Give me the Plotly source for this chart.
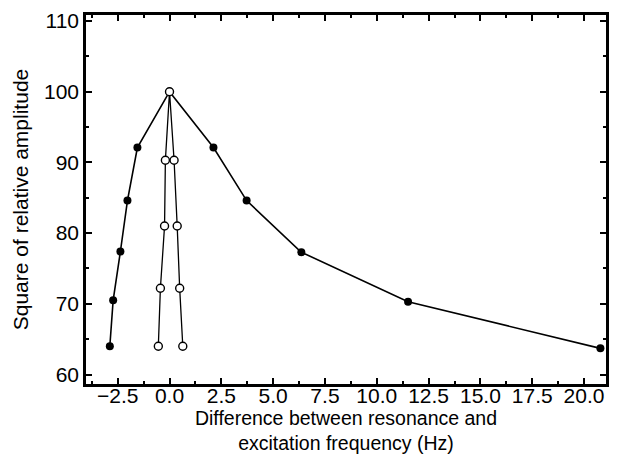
import plotly.graph_objects as go

# Data
filled_x = [-2.88, -2.72, -2.37, -2.03, -1.55, 0.0, 2.12, 3.72, 6.36, 11.51, 20.79]
filled_y = [64.0, 70.5, 77.4, 84.6, 92.1, 100.0, 92.1, 84.6, 77.3, 70.3, 63.7]

open_x = [-0.54, -0.44, -0.24, -0.2, 0.0, 0.22, 0.37, 0.49, 0.64]
open_y = [64.0, 72.2, 81.0, 90.3, 100.0, 90.3, 81.0, 72.2, 64.0]

x_tickvals = [-2.5, 0.0, 2.5, 5.0, 7.5, 10.0, 12.5, 15.0, 17.5, 20.0]
x_ticktext = ["−2.5", "0.0", "2.5", "5.0", "7.5", "10.0", "12.5", "15.0", "17.5", "20.0"]
y_tickvals = [60, 70, 80, 90, 100, 110]

x_title = "Difference between resonance and<br>excitation frequency (Hz)"
y_title = "Square of relative amplitude"

FONT = "Liberation Sans, Arial, sans-serif"

fig = go.Figure()
fig.add_trace(go.Scatter(
    x=filled_x, y=filled_y, mode="lines+markers",
    line=dict(color="black", width=1.6),
    marker=dict(symbol="circle", size=8, color="black"),
    showlegend=False,
))
fig.add_trace(go.Scatter(
    x=open_x, y=open_y, mode="lines+markers",
    line=dict(color="black", width=1.3),
    marker=dict(symbol="circle", size=8, color="white",
                line=dict(color="black", width=1.4)),
    showlegend=False,
))

axis_common = dict(
    showline=True, linecolor="black", linewidth=2.5, mirror="allticks",
    ticks="inside", ticklen=6, tickwidth=2, tickcolor="black",
    showgrid=False, zeroline=False,
    tickfont=dict(family=FONT, size=21, color="black"),
)

fig.update_xaxes(
    range=[-4.03, 21.06], tickvals=x_tickvals, ticktext=x_ticktext,
    minor=dict(ticks="inside", ticklen=3, tickwidth=2, tickcolor="black", dtick=1.25, tick0=0),
    title=dict(text=x_title, font=dict(family=FONT, size=19.5, color="black"), standoff=0),
    ticklabelstandoff=-9,
    **axis_common,
)
fig.update_yaxes(
    range=[58.66, 110.85], tickvals=y_tickvals,
    minor=dict(ticks="inside", ticklen=3, tickwidth=2, tickcolor="black", dtick=5, tick0=0),
    title=dict(text=y_title, font=dict(family=FONT, size=21, color="black"), standoff=10),
    **axis_common,
)

fig.update_layout(
    width=617, height=466,
    margin=dict(l=86, r=8, t=15, b=82),
    plot_bgcolor="white", paper_bgcolor="white",
    font=dict(family=FONT, color="black"),
)

fig.write_html("out.html")
